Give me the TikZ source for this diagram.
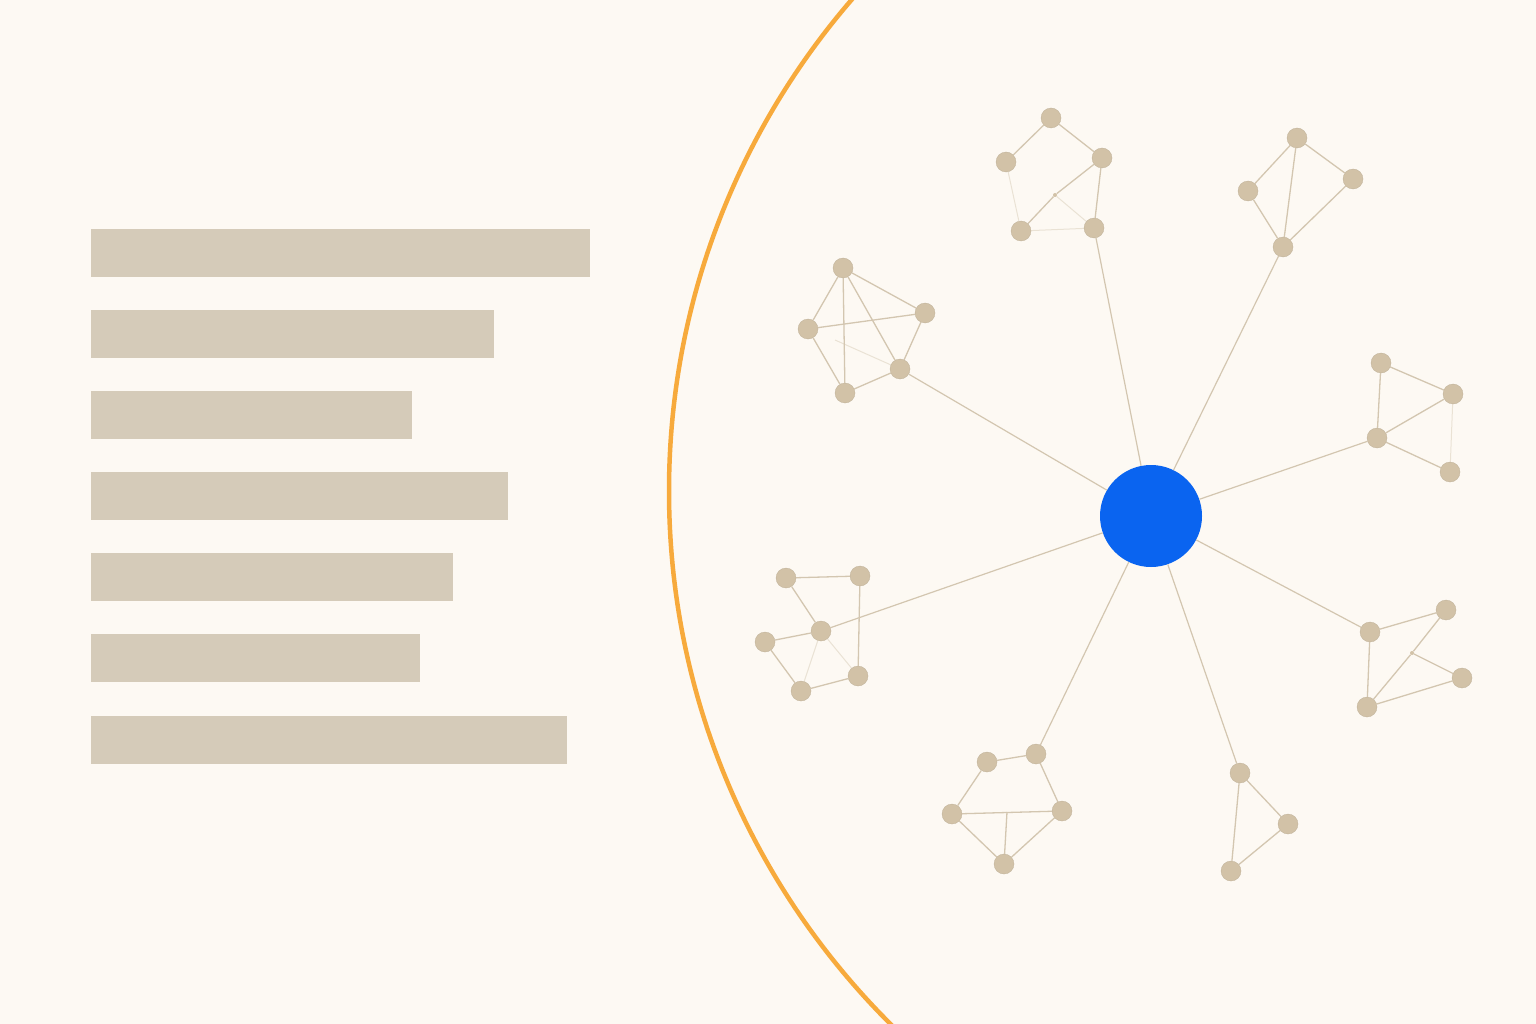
\documentclass[tikz,border=0pt]{standalone}
\definecolor{bg}{HTML}{FDF9F3}
\definecolor{barc}{HTML}{D5CBB9}
\definecolor{nodec}{HTML}{D2C2A7}
\definecolor{edgec}{HTML}{D3C6B0}
\definecolor{hubc}{HTML}{0A64F0}
\definecolor{arcc}{HTML}{F7AA3C}
\tikzset{
  bar/.style={fill=barc, draw=none},
  dot/.style={circle, fill=nodec, draw=nodec!90!black, line width=0.3pt, minimum size=20pt, inner sep=0pt},
  tiny/.style={circle, fill=nodec, minimum size=4pt, inner sep=0pt},
  hub/.style={circle, fill=hubc, draw=none, minimum size=102pt, inner sep=0pt},
  link/.style={draw=edgec, line width=1.3pt},
  faint/.style={draw=edgec, line width=1pt, opacity=0.45},
  spoke/.style={draw=edgec, line width=1.2pt},
}
\begin{document}
\begin{tikzpicture}[x=1pt,y=-1pt]
\fill[bg] (0,0) rectangle (1536,1024);
\useasboundingbox (0,0) rectangle (1536,1024);
% bars
\fill[bar] (91,229) rectangle (590,277);
\fill[bar] (91,310) rectangle (494,358);
\fill[bar] (91,391) rectangle (412,439);
\fill[bar] (91,472) rectangle (508,520);
\fill[bar] (91,553) rectangle (453,601);
\fill[bar] (91,634) rectangle (420,682);
\fill[bar] (91,716) rectangle (567,764);
% arc
\begin{scope}
\clip (0,0) rectangle (1536,1024);
\draw[arcc, line width=4.5pt] (1421,491) circle[radius=752];
\end{scope}
% hub
\node[hub] (hub) at (1151,516) {};
% cluster 1
\node[dot] (a1) at (1051,118) {};
\node[dot] (a2) at (1006,162) {};
\node[dot] (a3) at (1102,158) {};
\node[dot] (a4) at (1021,231) {};
\node[dot] (a5) at (1094,228) {};
\node[tiny] (a6) at (1055,195) {};
% cluster 2
\node[dot] (b1) at (1297,138) {};
\node[dot] (b2) at (1248,191) {};
\node[dot] (b3) at (1353,179) {};
\node[dot] (b4) at (1283,247) {};
% cluster 3
\node[dot] (c1) at (843,268) {};
\node[dot] (c2) at (808,329) {};
\node[dot] (c3) at (925,313) {};
\node[dot] (c4) at (900,369) {};
\node[dot] (c5) at (845,393) {};
\coordinate (c6) at (835,340);
% cluster 4
\node[dot] (d1) at (1381,363) {};
\node[dot] (d2) at (1453,394) {};
\node[dot] (d3) at (1377,438) {};
\node[dot] (d4) at (1450,472) {};
% cluster 5
\node[dot] (e1) at (786,578) {};
\node[dot] (e2) at (860,576) {};
\node[dot] (e3) at (821,631) {};
\node[dot] (e4) at (765,642) {};
\node[dot] (e5) at (858,676) {};
\node[dot] (e6) at (801,691) {};
% cluster 6
\node[dot] (f1) at (1446,610) {};
\node[dot] (f2) at (1370,632) {};
\node[dot] (f3) at (1462,678) {};
\node[dot] (f4) at (1367,707) {};
\node[tiny] (f5) at (1412,653) {};
% cluster 7
\node[dot] (g1) at (987,762) {};
\node[dot] (g2) at (1036,754) {};
\node[dot] (g3) at (952,814) {};
\node[dot] (g4) at (1062,811) {};
\node[dot] (g5) at (1004,864) {};
\coordinate (g6) at (1007,812);
% cluster 8
\node[dot] (h1) at (1240,773) {};
\node[dot] (h2) at (1288,824) {};
\node[dot] (h3) at (1231,871) {};
% spokes
\draw[spoke] (hub) -- (a5);
\draw[spoke] (hub) -- (b4);
\draw[spoke] (hub) -- (c4);
\draw[spoke] (hub) -- (d3);
\draw[spoke] (hub) -- (e3);
\draw[spoke] (hub) -- (f2);
\draw[spoke] (hub) -- (g2);
\draw[spoke] (hub) -- (h1);
% cluster edges
\draw[link] (a1) -- (a2);
\draw[link] (a1) -- (a3);
\draw[link] (a3) -- (a5);
\draw[link] (a3) -- (a6);
\draw[link] (a6) -- (a4);
\draw[faint] (a2) -- (a4);
\draw[faint] (a4) -- (a5);
\draw[faint] (a6) -- (a5);
\draw[link] (b1) -- (b2);
\draw[link] (b1) -- (b3);
\draw[link] (b1) -- (b4);
\draw[link] (b2) -- (b4);
\draw[link] (b3) -- (b4);
\draw[link] (c1) -- (c2);
\draw[link] (c1) -- (c3);
\draw[link] (c1) -- (c5);
\draw[link] (c1) -- (c4);
\draw[link] (c2) -- (c3);
\draw[link] (c2) -- (c5);
\draw[link] (c3) -- (c4);
\draw[link] (c4) -- (c5);
\draw[faint] (c6) -- (c4);
\draw[link] (d1) -- (d2);
\draw[link] (d1) -- (d3);
\draw[link] (d2) -- (d3);
\draw[link] (d3) -- (d4);
\draw[faint] (d2) -- (d4);
\draw[link] (e1) -- (e2);
\draw[link] (e1) -- (e3);
\draw[link] (e2) -- (e5);
\draw[link] (e3) -- (e4);
\draw[link] (e4) -- (e6);
\draw[link] (e6) -- (e5);
\draw[faint] (e3) -- (e5);
\draw[faint] (e3) -- (e6);
\draw[link] (f2) -- (f1);
\draw[link] (f2) -- (f4);
\draw[link] (f1) -- (f5);
\draw[link] (f5) -- (f4);
\draw[link] (f5) -- (f3);
\draw[link] (f4) -- (f3);
\draw[link] (g1) -- (g2);
\draw[link] (g1) -- (g3);
\draw[link] (g2) -- (g4);
\draw[link] (g3) -- (g4);
\draw[link] (g3) -- (g5);
\draw[link] (g4) -- (g5);
\draw[link] (g6) -- (g5);
\draw[link] (h1) -- (h2);
\draw[link] (h1) -- (h3);
\draw[link] (h2) -- (h3);
\end{tikzpicture}
\end{document}
